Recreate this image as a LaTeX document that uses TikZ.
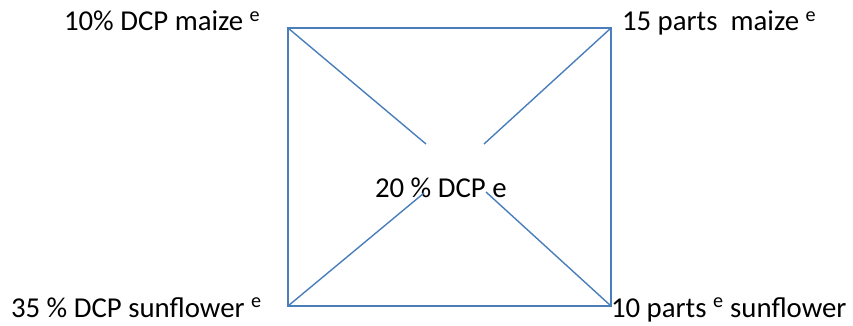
\documentclass[tikz,border=0pt]{standalone}
\usepackage{fontspec}
\setmainfont{Carlito}
\definecolor{sqblue}{RGB}{74,126,187}
\begin{document}
\begin{tikzpicture}[x=1pt,y=-1pt,
  lbl/.style={anchor=base west,inner sep=0pt,outer sep=0pt,font=\fontsize{28.8}{34}\selectfont,text=black},
  edge/.style={draw=sqblue,line width=1.7pt,line join=miter}]
\useasboundingbox (0,0) rectangle (853,326);
% corners
\coordinate (tl) at (288,28);
\coordinate (tr) at (611,28);
\coordinate (bl) at (288,306);
\coordinate (br) at (611,306);
% inner ends of diagonals
\coordinate (ctl) at (426,144);
\coordinate (ctr) at (484,144);
\coordinate (cbl) at (424,193);
\coordinate (cbr) at (486,192);
% labels
\node[lbl] (a) at (64,31) {10\% DCP maize \textsuperscript{e}};
\node[lbl] (b) at (622,31) {15 parts\ \ maize \textsuperscript{e}};
\node[lbl] (c) at (11,317) {35 \% DCP sunflower \textsuperscript{e}};
\node[lbl] (d) at (611,317) {10 parts \textsuperscript{e} sunflower};
\node[lbl] (m) at (375,197) {20 \% DCP e};
% square
\draw[edge] (tl) -- (tr) -- (br) -- (bl) -- cycle;
% diagonals
\draw[edge,line width=1.4pt] (tl) -- (ctl);
\draw[edge,line width=1.4pt] (tr) -- (ctr);
\draw[edge,line width=1.4pt] (bl) -- (cbl);
\draw[edge,line width=1.4pt] (br) -- (cbr);
\end{tikzpicture}
\end{document}
